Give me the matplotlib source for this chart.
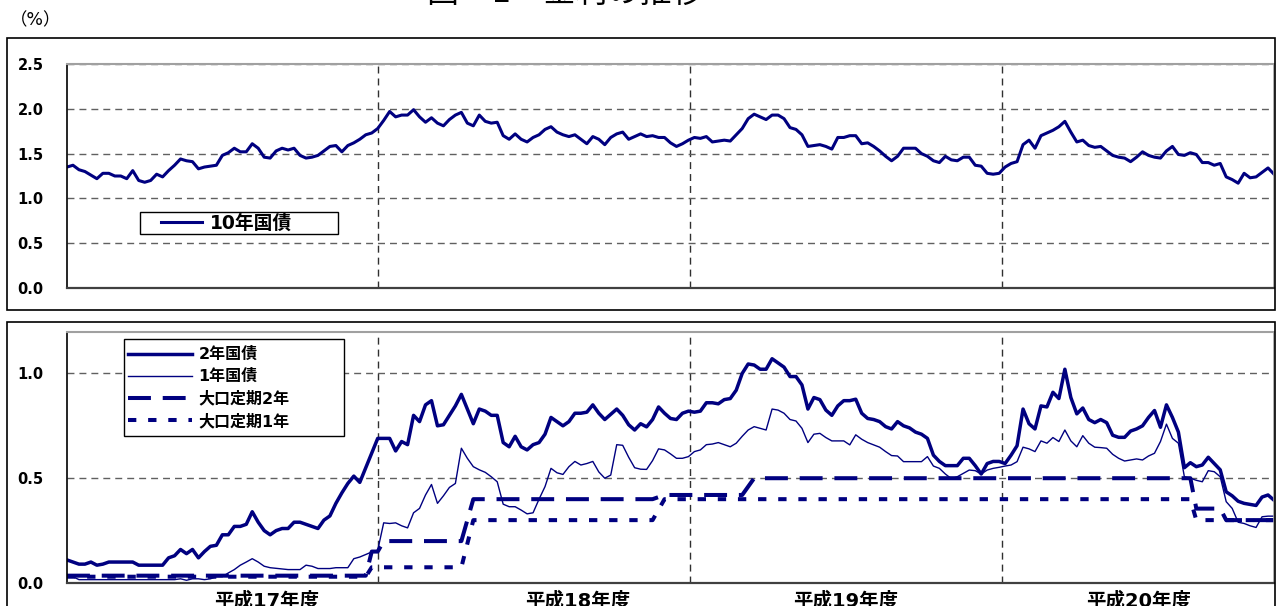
import matplotlib
matplotlib.use("Agg")
from matplotlib import pyplot as plt
from matplotlib.patches import Rectangle
from matplotlib.transforms import blended_transform_factory

plt.rcParams['font.family'] = ['DejaVu Sans', 'Noto Sans CJK JP']
plt.rcParams['lines.scale_dashes'] = False

ANCHO, ALTO = 1276, 606
NAVY = '#000080'

# 週次データ（平成17年度4月〜平成20年度）, %
kokusai_10y = [
    1.35, 1.37, 1.32, 1.30, 1.26, 1.22, 1.28, 1.28, 1.25, 1.25,
    1.22, 1.31, 1.20, 1.18, 1.20, 1.27, 1.24, 1.31, 1.37, 1.44,
    1.42, 1.41, 1.33, 1.35, 1.36, 1.37, 1.48, 1.51, 1.56, 1.52,
    1.52, 1.61, 1.56, 1.46, 1.45, 1.53, 1.56, 1.54, 1.56, 1.48,
    1.45, 1.46, 1.48, 1.53, 1.58, 1.59, 1.52, 1.59, 1.62, 1.66,
    1.71, 1.73, 1.78, 1.87, 1.97, 1.91, 1.93, 1.93, 1.99, 1.91,
    1.85, 1.90, 1.84, 1.81, 1.88, 1.93, 1.96, 1.84, 1.81, 1.93,
    1.86, 1.84, 1.85, 1.70, 1.66, 1.72, 1.66, 1.63, 1.68, 1.71,
    1.77, 1.80, 1.74, 1.71, 1.69, 1.71, 1.66, 1.61, 1.69, 1.66,
    1.60, 1.68, 1.72, 1.74, 1.66, 1.69, 1.72, 1.69, 1.70, 1.68,
    1.68, 1.62, 1.58, 1.61, 1.65, 1.68, 1.67, 1.69, 1.63, 1.64,
    1.65, 1.64, 1.71, 1.78, 1.89, 1.94, 1.91, 1.88, 1.93, 1.93,
    1.89, 1.79, 1.77, 1.71, 1.58, 1.59, 1.60, 1.58, 1.55, 1.68,
    1.68, 1.70, 1.70, 1.61, 1.62, 1.58, 1.53, 1.47, 1.42, 1.47,
    1.56, 1.56, 1.56, 1.50, 1.47, 1.42, 1.40, 1.47, 1.43, 1.42,
    1.46, 1.46, 1.37, 1.36, 1.28, 1.27, 1.28, 1.35, 1.39, 1.41,
    1.60, 1.65, 1.56, 1.70, 1.73, 1.76, 1.80, 1.86, 1.74, 1.63,
    1.65, 1.59, 1.57, 1.58, 1.53, 1.48, 1.46, 1.45, 1.41, 1.46,
    1.52, 1.48, 1.46, 1.45, 1.53, 1.58, 1.49, 1.48, 1.51, 1.49,
    1.40, 1.40, 1.37, 1.39, 1.24, 1.21, 1.17, 1.28, 1.23, 1.24,
    1.29, 1.34, 1.27,
]

kokusai_2y = [
    0.11, 0.10, 0.09, 0.09, 0.10, 0.085, 0.09, 0.10, 0.10, 0.10,
    0.10, 0.10, 0.085, 0.085, 0.085, 0.085, 0.085, 0.12, 0.13, 0.16,
    0.14, 0.16, 0.12, 0.15, 0.175, 0.18, 0.23, 0.23, 0.27, 0.27,
    0.28, 0.34, 0.29, 0.25, 0.23, 0.25, 0.26, 0.26, 0.29, 0.29,
    0.28, 0.27, 0.26, 0.30, 0.32, 0.38, 0.43, 0.475, 0.51, 0.48,
    0.55, 0.62, 0.69, 0.69, 0.69, 0.63, 0.675, 0.66, 0.80, 0.77,
    0.85, 0.87, 0.75, 0.755, 0.80, 0.845, 0.90, 0.83, 0.76, 0.83,
    0.82, 0.80, 0.80, 0.67, 0.65, 0.70, 0.65, 0.635, 0.66, 0.67,
    0.71, 0.79, 0.77, 0.75, 0.77, 0.81, 0.81, 0.815, 0.85, 0.81,
    0.78, 0.805, 0.83, 0.80, 0.755, 0.73, 0.76, 0.745, 0.78, 0.84,
    0.81, 0.785, 0.78, 0.81, 0.82, 0.815, 0.82, 0.86, 0.86, 0.855,
    0.875, 0.88, 0.92, 1.00, 1.045, 1.04, 1.02, 1.02, 1.07, 1.05,
    1.03, 0.985, 0.985, 0.945, 0.83, 0.885, 0.875, 0.825, 0.80, 0.845,
    0.87, 0.87, 0.877, 0.81, 0.785, 0.78, 0.77, 0.746, 0.735, 0.77,
    0.75, 0.74, 0.72, 0.71, 0.69, 0.61, 0.58, 0.56, 0.56, 0.56,
    0.595, 0.595, 0.56, 0.52, 0.57, 0.58, 0.58, 0.57, 0.61, 0.655,
    0.83, 0.76, 0.735, 0.845, 0.84, 0.91, 0.88, 1.02, 0.885, 0.807,
    0.835, 0.78, 0.765, 0.78, 0.765, 0.705, 0.695, 0.695, 0.725, 0.735,
    0.75, 0.79, 0.823, 0.743, 0.85, 0.79, 0.72, 0.55, 0.574, 0.555,
    0.563, 0.60, 0.57, 0.54, 0.435, 0.416, 0.39, 0.38, 0.375, 0.37,
    0.41, 0.42, 0.395,
]

kokusai_1y = [
    0.037, 0.03, 0.016, 0.016, 0.016, 0.016, 0.016, 0.016, 0.016, 0.016,
    0.016, 0.016, 0.016, 0.016, 0.016, 0.016, 0.016, 0.016, 0.016, 0.02,
    0.013, 0.02, 0.02, 0.016, 0.02, 0.03, 0.03, 0.048, 0.064, 0.085,
    0.10, 0.116, 0.10, 0.08, 0.073, 0.07, 0.067, 0.064, 0.064, 0.064,
    0.085, 0.08, 0.069, 0.069, 0.069, 0.073, 0.073, 0.073, 0.116, 0.124,
    0.136, 0.148, 0.156, 0.287, 0.284, 0.287, 0.273, 0.263, 0.335, 0.356,
    0.42, 0.47, 0.38, 0.416, 0.456, 0.475, 0.643, 0.595, 0.555, 0.54,
    0.528, 0.507, 0.483, 0.376, 0.364, 0.364, 0.348, 0.33, 0.335, 0.40,
    0.46, 0.547, 0.526, 0.518, 0.555, 0.58, 0.563, 0.57, 0.58, 0.53,
    0.50, 0.515, 0.66, 0.657, 0.60, 0.55, 0.543, 0.542, 0.584, 0.64,
    0.635, 0.616, 0.595, 0.595, 0.603, 0.627, 0.635, 0.66, 0.663, 0.67,
    0.66, 0.65, 0.667, 0.70, 0.73, 0.746, 0.738, 0.73, 0.83, 0.825,
    0.81, 0.78, 0.773, 0.738, 0.67, 0.71, 0.714, 0.694, 0.678, 0.678,
    0.678, 0.659, 0.707, 0.686, 0.67, 0.659, 0.648, 0.627, 0.608, 0.606,
    0.579, 0.579, 0.579, 0.579, 0.603, 0.558, 0.547, 0.52, 0.498, 0.507,
    0.523, 0.539, 0.536, 0.52, 0.539, 0.547, 0.552, 0.558, 0.563, 0.579,
    0.648, 0.64, 0.627, 0.678, 0.667, 0.694, 0.675, 0.73, 0.678, 0.65,
    0.703, 0.667, 0.648, 0.646, 0.643, 0.614, 0.595, 0.582, 0.587, 0.592,
    0.587, 0.606, 0.619, 0.675, 0.758, 0.69, 0.667, 0.507, 0.50, 0.49,
    0.483, 0.536, 0.531, 0.507, 0.388, 0.356, 0.29, 0.284, 0.273, 0.265,
    0.316, 0.319, 0.319,
]

# 大口定期（金利変更の週と金利）
teiki_2y_shu = [0, 50, 51, 52, 53, 66, 68, 98, 100, 113, 115, 188, 189, 193, 194, 202]
teiki_2y = [0.035, 0.035, 0.15, 0.15, 0.20, 0.20, 0.40, 0.40, 0.42, 0.42, 0.50, 0.50,
            0.355, 0.355, 0.30, 0.30]
teiki_1y_shu = [0, 50, 51, 66, 68, 98, 100, 188, 189, 202]
teiki_1y = [0.03, 0.03, 0.075, 0.075, 0.30, 0.30, 0.40, 0.40, 0.30, 0.30]

nendo = ['平成17年度', '平成18年度', '平成19年度', '平成20年度']
nendo_kugiri = [52, 104.3, 156.5]
nendo_label_x = [33.4, 85.5, 130.3, 179.3]


def px(x, y):
    """ピクセル座標 -> figure座標"""
    return x / ANCHO, 1 - y / ALTO


def crear_eje(fig, izq, arriba, der, abajo):
    x0, y0 = px(izq, abajo)
    x1, y1 = px(der, arriba)
    return fig.add_axes([x0, y0, x1 - x0, y1 - y0])


def estilo(ax, ymax, ticks):
    ax.set_xlim(0, len(kokusai_10y) - 1)
    ax.set_ylim(0, ymax)
    ax.set_yticks(ticks)
    ax.set_yticklabels([f'{t:.1f}' for t in ticks], fontweight='bold', fontsize=10.5)
    ax.set_xticks(nendo_kugiri)
    ax.tick_params(length=0, labelbottom=False)
    ax.tick_params(axis='y', pad=17)
    ax.set_axisbelow(True)
    ax.grid(axis='y', color='#606060', lw=1, linestyle=(0, (5, 3.6)))
    ax.grid(axis='x', color='#303030', lw=1, linestyle=(0, (5, 3.6)))
    ax.spines['left'].set(color='black', lw=1.2)
    ax.spines['bottom'].set(color='#404040', lw=1.6)
    ax.spines['top'].set(color='#a0a0a0', lw=1.5)
    ax.spines['right'].set(color='#a0a0a0', lw=1.2)


def caja(ax, fig, izq, arriba, der, abajo):
    x0, y0 = px(izq, abajo)
    x1, y1 = px(der, arriba)
    r = Rectangle((x0, y0), x1 - x0, y1 - y0, transform=fig.transFigure,
                  facecolor='white', edgecolor='black', lw=1, zorder=4)
    ax.add_artist(r)


fig = plt.figure(figsize=(ANCHO / 100, ALTO / 100), dpi=100)

# 外枠
for arriba, abajo in [(38, 310), (322, 620)]:
    x0, y0 = px(7, abajo)
    x1, y1 = px(1275, arriba)
    fig.add_artist(Rectangle((x0, y0), x1 - x0, y1 - y0, transform=fig.transFigure,
                             fill=False, edgecolor='black', lw=1.2))

fig.text(*px(565, -7), '図　1　金利の推移', ha='center', va='center', fontsize=23)
fig.text(*px(36, 20), '（%）', ha='center', va='center', fontsize=12.5)

# 上段: 10年国債
ax1 = crear_eje(fig, 67, 64, 1274, 288)
semanas = list(range(len(kokusai_10y)))
ax1.plot(semanas, kokusai_10y, color=NAVY, lw=2.2, label='10年国債')
estilo(ax1, 2.5, [0.0, 0.5, 1.0, 1.5, 2.0, 2.5])
caja(ax1, fig, 140, 212, 338, 234)
ax1.legend(loc='center left', bbox_to_anchor=px(161, 223), bbox_transform=fig.transFigure,
           frameon=False, borderpad=0, borderaxespad=0, handlelength=2.2,
           handletextpad=0.4, prop={'weight': 'bold', 'size': 13.5})

# 下段: 2年・1年国債, 大口定期
ax2 = crear_eje(fig, 67, 331.5, 1274, 583)
ax2.plot(semanas, kokusai_2y, color=NAVY, lw=2.5, label='2年国債')
ax2.plot(semanas, kokusai_1y, color=NAVY, lw=1.0, label='1年国債')
ax2.plot(teiki_2y_shu, teiki_2y, color=NAVY, lw=2.9, linestyle=(0, (16.5, 8.5)),
         dash_capstyle='butt', label='大口定期2年')
ax2.plot(teiki_1y_shu, teiki_1y, color=NAVY, lw=2.9, linestyle=(0, (6, 8.5)),
         dash_capstyle='butt', label='大口定期1年')
estilo(ax2, 1.2, [0.0, 0.5, 1.0])
caja(ax2, fig, 124, 339, 344, 436)
ax2.legend(loc='center left', bbox_to_anchor=px(128, 388), bbox_transform=fig.transFigure,
           frameon=False, borderpad=0, borderaxespad=0, handlelength=4.0,
           handletextpad=0.4, labelspacing=0.42, prop={'weight': 'bold', 'size': 11.5})

trans = blended_transform_factory(ax2.transData, ax2.transAxes)
for x, texto in zip(nendo_label_x, nendo):
    ax2.text(x, -(601 - 583) / 251.5, texto, transform=trans, ha='center', va='center',
             fontsize=14, fontweight='bold', clip_on=False)

fig.savefig('out.png', dpi=100)
